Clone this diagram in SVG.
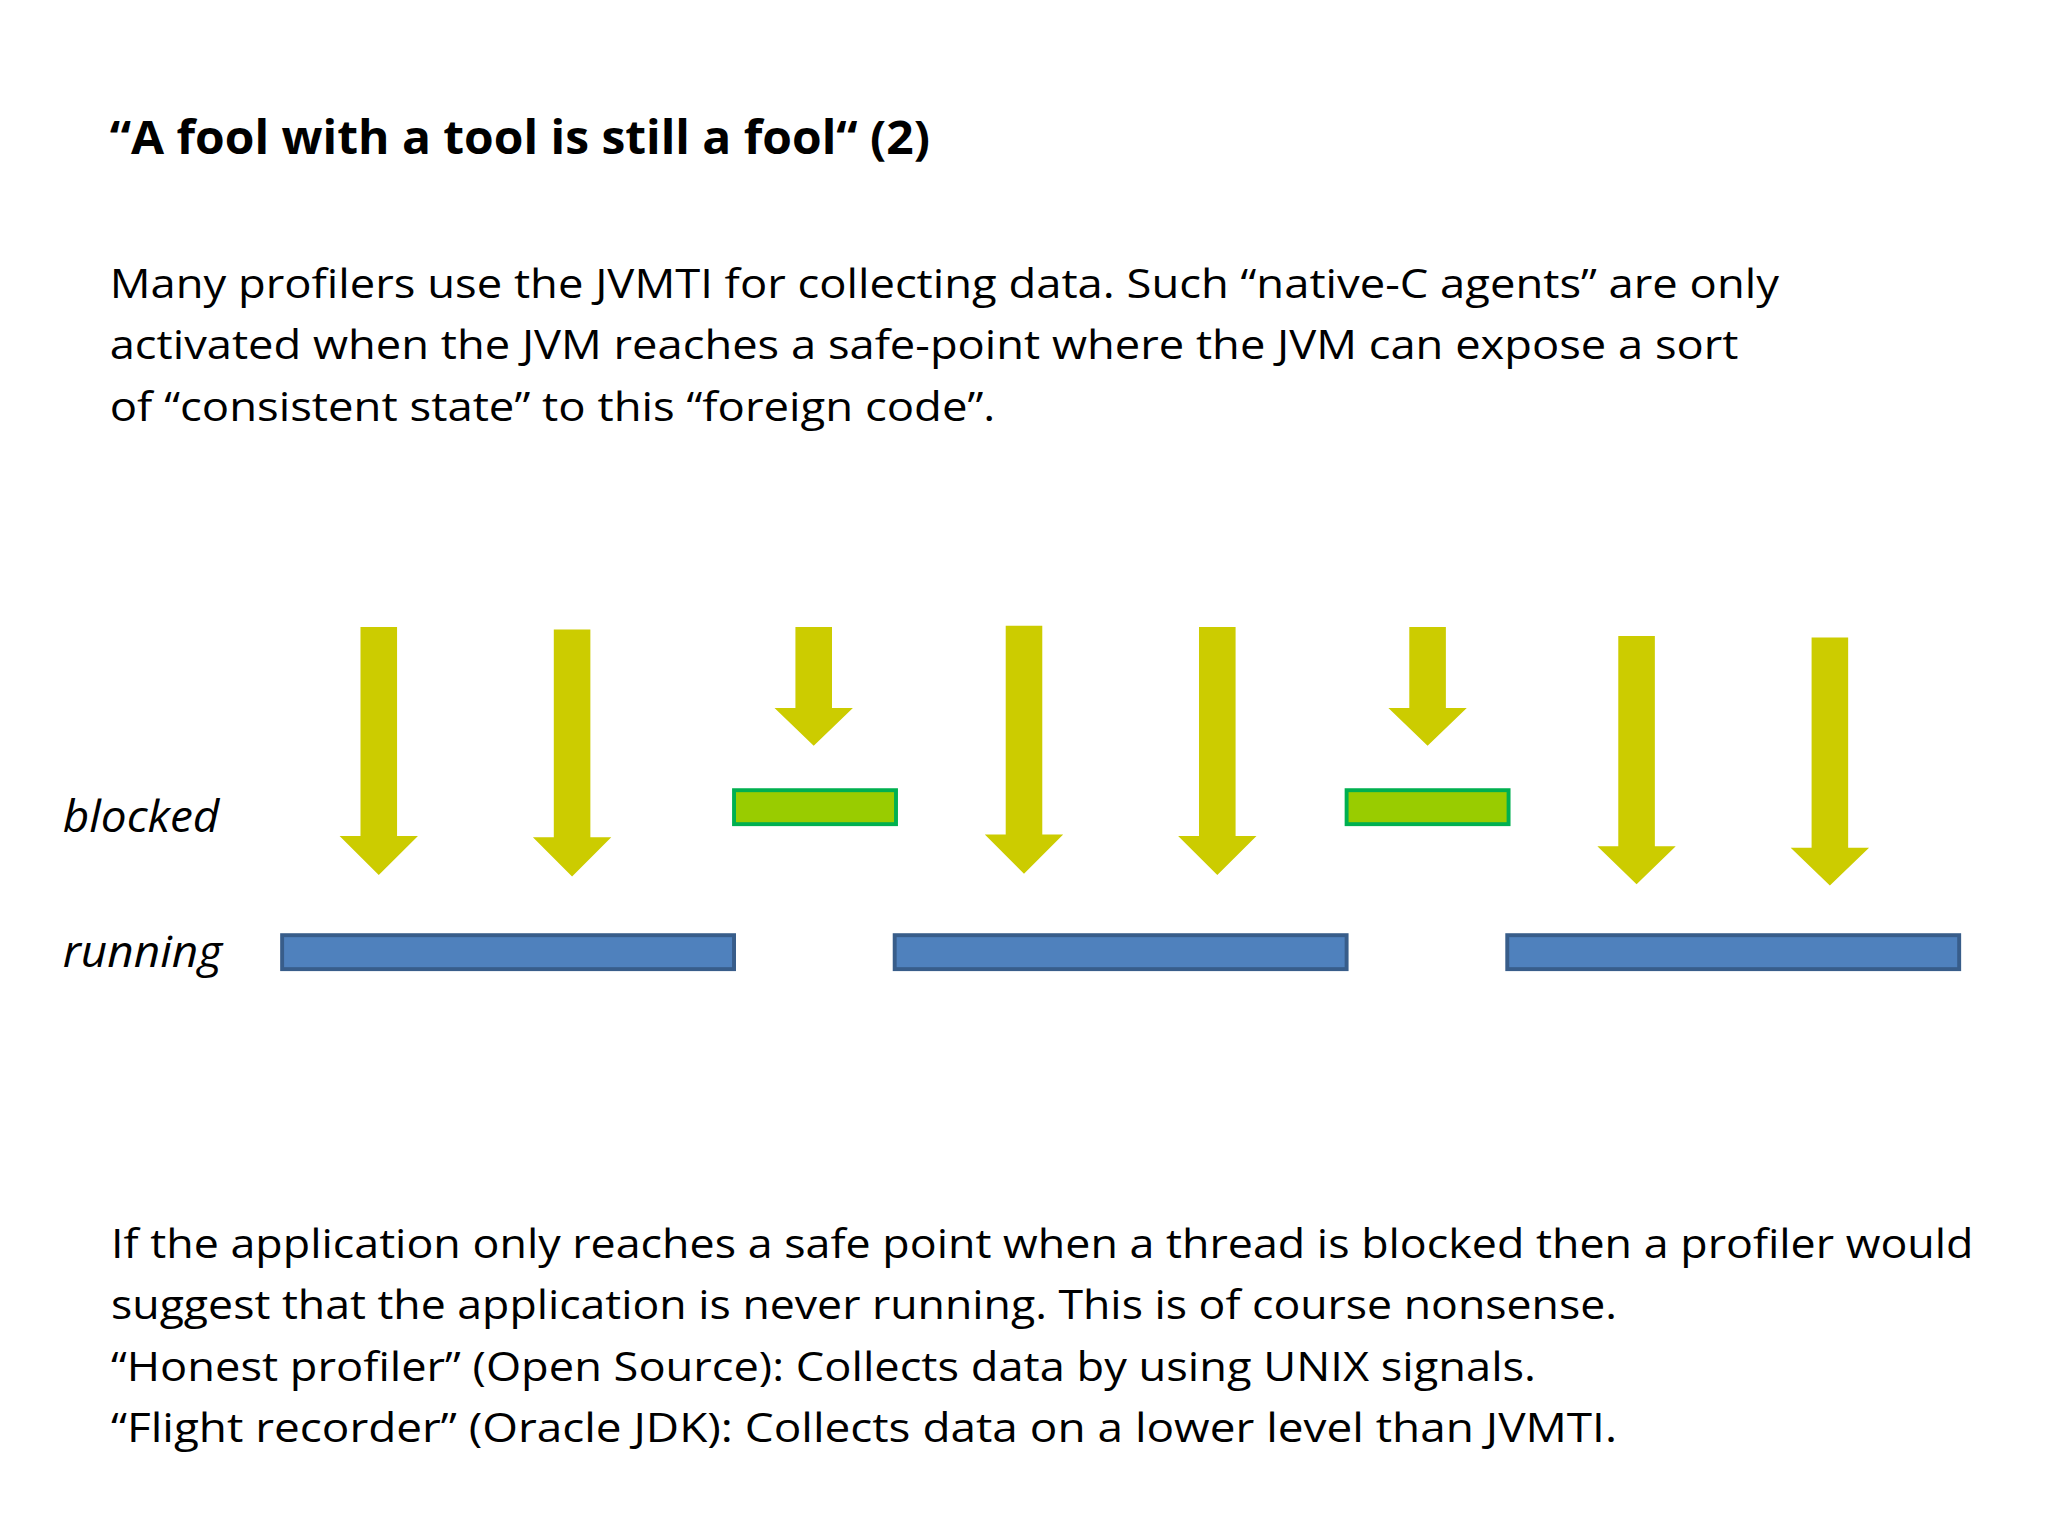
<svg xmlns="http://www.w3.org/2000/svg" width="2048" height="1536" viewBox="0 0 2048 1536">
<style>
.t{font-family:"Open Sans","Liberation Sans",sans-serif;fill:#000}
.b{font-size:31px}
.h{font-size:35px;font-weight:bold}
.l{font-size:34px;font-style:italic}
.ar{fill:#cccc00}
.g{fill:#99cc00;stroke:#00b050;stroke-width:3}
.r{fill:#4f81bd;stroke:#385d8a;stroke-width:3}
</style>
<defs>
<path id="a" class="ar" d="M-14,0 H14 V0 H30 L0,30 L-30,0 H-14Z"/>
</defs>
<rect width="2048" height="1536" fill="#fff"/>
<g transform="scale(1.30612)">
<g id="texts">
<text class="t h" x="84" y="118" textLength="628" lengthAdjust="spacingAndGlyphs">“A fool with a tool is still a fool“ (2)</text>
<text class="t b" x="84" y="228" textLength="1278" lengthAdjust="spacingAndGlyphs">Many profilers use the JVMTI for collecting data. Such “native-C agents” are only</text>
<text class="t b" x="84" y="275" textLength="1247" lengthAdjust="spacingAndGlyphs">activated when the JVM reaches a safe-point where the JVM can expose a sort</text>
<text class="t b" x="84" y="322" textLength="678" lengthAdjust="spacingAndGlyphs">of “consistent state” to this “foreign code”.</text>
<text class="t b" x="85" y="963" textLength="1426" lengthAdjust="spacingAndGlyphs">If the application only reaches a safe point when a thread is blocked then a profiler would</text>
<text class="t b" x="85" y="1010" textLength="1153" lengthAdjust="spacingAndGlyphs">suggest that the application is never running. This is of course nonsense.</text>
<text class="t b" x="85" y="1057" textLength="1091" lengthAdjust="spacingAndGlyphs">“Honest profiler” (Open Source): Collects data by using UNIX signals.</text>
<text class="t b" x="85" y="1104" textLength="1153" lengthAdjust="spacingAndGlyphs">“Flight recorder” (Oracle JDK): Collects data on a lower level than JVMTI.</text>
</g>
<g id="labels">
<text class="t l" x="48" y="637" textLength="120" lengthAdjust="spacingAndGlyphs">blocked</text>
<text class="t l" x="48" y="740" textLength="122" lengthAdjust="spacingAndGlyphs">running</text>
</g>
<g id="bars">
<rect class="g" x="562" y="605" width="124" height="26"/>
<rect class="g" x="1031" y="605" width="124" height="26"/>
<rect class="r" x="216" y="716" width="346" height="26"/>
<rect class="r" x="685" y="716" width="346" height="26"/>
<rect class="r" x="1154" y="716" width="346" height="26"/>
</g>
<g id="connectors">
<path class="ar" d="M276,480H304V640H320L290,670L260,640H276Z"/>
<path class="ar" d="M424,482H452V641H468L438,671L408,641H424Z"/>
<path class="ar" d="M609,480H637V542H653L623,571L593,542H609Z"/>
<path class="ar" d="M770,479H798V639H814L784,669L754,639H770Z"/>
<path class="ar" d="M918,480H946V640H962L932,670L902,640H918Z"/>
<path class="ar" d="M1079,480H1107V542H1123L1093,571L1063,542H1079Z"/>
<path class="ar" d="M1239,487H1267V648H1283L1253,677L1223,648H1239Z"/>
<path class="ar" d="M1387,488H1415V649H1431L1401,678L1371,649H1387Z"/>
</g>
</g>
</svg>
